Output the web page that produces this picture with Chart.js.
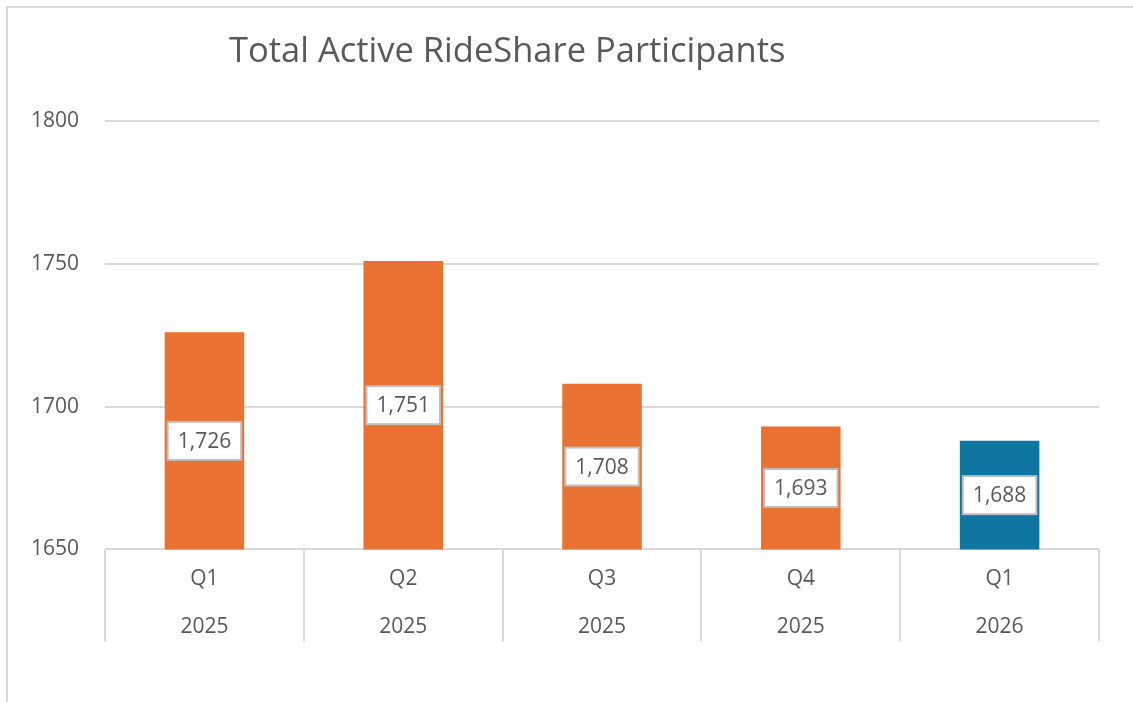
<!DOCTYPE html>
<html>
<head>
<meta charset="utf-8">
<script src="https://cdn.jsdelivr.net/npm/chart.js@4/dist/chart.umd.min.js"></script>
<style>
  html, body { margin: 0; padding: 0; background: #ffffff; }
  #wrap { position: relative; width: 1133px; height: 702px; overflow: hidden; }
  #frame { position: absolute; left: 6px; top: 6px; width: 1200px; height: 800px;
           border-left: 2px solid #d9d9d9; border-top: 2px solid #d9d9d9; box-sizing: border-box; }
  canvas { position: absolute; left: 0; top: 0; }
</style>
</head>
<body>
<div id="wrap">
  <div id="frame"></div>
  <canvas id="c" width="1133" height="702"></canvas>
</div>
<script>
const titleText = 'Total Active RideShare Participants';
const quarters = ['Q1', 'Q2', 'Q3', 'Q4', 'Q1'];
const years = ['2025', '2025', '2025', '2025', '2026'];
const participants = [1726, 1751, 1708, 1693, 1688];
const barColors = ['#E97132', '#E97132', '#E97132', '#E97132', '#0E76A0'];
const yMin = 1650, yMax = 1800, yStep = 50;

const FONT = '"Open Sans", "Liberation Sans", sans-serif';
const TEXT = '#595959';
const GRID = '#d9d9d9';

const labels = quarters.map((q, i) => [q, years[i]]);

function fmt(v) {
  const s = String(v);
  return s.length > 3 ? s.slice(0, s.length - 3) + ',' + s.slice(s.length - 3) : s;
}

const titlePlugin = {
  id: 'customTitle',
  afterDraw(chart) {
    const ctx = chart.ctx;
    ctx.save();
    ctx.font = '400 34.5px ' + FONT;
    ctx.fillStyle = TEXT;
    ctx.textBaseline = 'alphabetic';
    ctx.textAlign = 'left';
    ctx.fillText(titleText, 229, 62);
    ctx.restore();
  }
};

const separatorPlugin = {
  id: 'catSeparators',
  afterDraw(chart) {
    const sc = chart.scales.x;
    const ctx = chart.ctx;
    const n = chart.data.labels.length;
    const xs = [sc.left];
    for (let i = 1; i < n; i++) {
      xs.push((sc.getPixelForTick(i - 1) + sc.getPixelForTick(i)) / 2);
    }
    xs.push(sc.right);
    ctx.save();
    ctx.strokeStyle = GRID;
    ctx.lineWidth = 2;
    ctx.beginPath();
    xs.forEach(x => {
      ctx.moveTo(Math.round(x), sc.top);
      ctx.lineTo(Math.round(x), sc.top + 92);
    });
    ctx.stroke();
    ctx.restore();
  }
};

const labelPlugin = {
  id: 'boxLabels',
  afterDraw(chart) {
    const ctx = chart.ctx;
    const xs = chart.scales.x, ys = chart.scales.y;
    ctx.save();
    ctx.font = '400 21px ' + FONT;
    for (let i = 0; i < participants.length; i++) {
      const cx = xs.getPixelForValue(i);
      const top = ys.getPixelForValue(participants[i]);
      const base = ys.getPixelForValue(yMin);
      const txt = fmt(participants[i]);
      const cy = (top + base) / 2;
      const w = ctx.measureText(txt).width + 20;
      const h = 38;
      ctx.fillStyle = '#ffffff';
      ctx.fillRect(cx - w / 2, cy - h / 2, w, h);
      ctx.strokeStyle = '#bfbfbf';
      ctx.lineWidth = 2;
      ctx.strokeRect(cx - w / 2, cy - h / 2, w, h);
      ctx.fillStyle = TEXT;
      ctx.textAlign = 'center';
      ctx.textBaseline = 'middle';
      ctx.fillText(txt, cx, cy + 1);
    }
    ctx.restore();
  }
};

new Chart(document.getElementById('c'), {
  type: 'bar',
  data: {
    labels: labels,
    datasets: [{
      data: participants,
      backgroundColor: barColors,
      borderWidth: 0,
      categoryPercentage: 1.0,
      barPercentage: 0.4
    }]
  },
  options: {
    responsive: false,
    animation: false,
    devicePixelRatio: 1,
    layout: { padding: { left: 5, right: 34, top: 121, bottom: 46 } },
    plugins: { legend: { display: false }, title: { display: false }, tooltip: { enabled: false } },
    scales: {
      x: {
        offset: true,
        grid: { display: false, drawTicks: false },
        border: { display: false },
        ticks: { color: TEXT, font: { family: FONT, size: 21, lineHeight: 2.3 }, padding: 5, maxRotation: 0, autoSkip: false }
      },
      y: {
        min: yMin, max: yMax,
        grid: { color: GRID, lineWidth: 2, drawTicks: false },
        border: { display: false },
        ticks: { stepSize: yStep, color: TEXT, font: { family: FONT, size: 21 }, padding: 26,
                 callback: v => String(v) }
      }
    }
  },
  plugins: [titlePlugin, separatorPlugin, labelPlugin]
});
</script>
</body>
</html>
